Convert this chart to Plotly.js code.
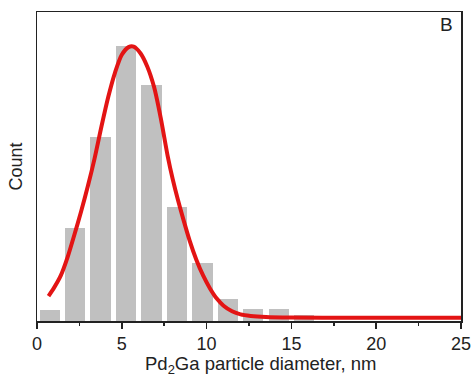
<!DOCTYPE html>
<html>
<head>
<meta charset="utf-8">
<script src="https://cdn.plot.ly/plotly-3.0.1.min.js"></script>
<style>html,body{margin:0;padding:0;background:#fff;}#chart{width:476px;height:376px;}</style>
</head>
<body>
<div id="chart"></div>
<script>
// Histogram bins (bin centers, nm) and counts
var binCenters = [0.75, 2.25, 3.75, 5.25, 6.75, 8.25, 9.75, 11.25, 12.75, 14.25, 15.75];
var counts     = [2.2, 18.2, 36.2, 54, 46.4, 22.4, 11.3, 4.4, 2.4, 2.4, 1.2];

// Fitted distribution curve
var fitX = [0.68, 1.0, 1.4, 1.8, 2.2, 2.6, 3.0, 3.4, 3.8, 4.2, 4.6, 5.0, 5.4, 5.7, 6.1, 6.5, 6.9, 7.3, 7.7, 8.0, 8.3, 8.6, 9.0, 9.4, 9.8, 10.2, 10.6, 11.0, 11.5, 12.0, 12.6, 13.5, 15, 18, 25];
var fitY = [4.9, 6.5, 8.9, 12.5, 16.9, 21.5, 26.5, 32.0, 38.2, 44.0, 48.8, 52.3, 53.8, 53.9, 52.6, 50.0, 46.0, 39.8, 32.5, 27.9, 23.9, 20.3, 15.8, 12.0, 8.9, 6.4, 4.4, 3.0, 1.9, 1.3, 1.0, 0.8, 0.7, 0.65, 0.65];

var xTickVals = [0, 5, 10, 15, 20, 25];
var xTickText = ["0", "5", "10", "15", "20", "25"];

var traces = [
  {
    type: 'bar', x: binCenters, y: counts, width: 1.2,
    marker: {color: '#c0c0c0', line: {width: 0}},
    hoverinfo: 'none', showlegend: false
  },
  {
    type: 'scatter', mode: 'lines', x: fitX, y: fitY,
    line: {color: '#e31414', width: 4, shape: 'spline', smoothing: 0.8},
    hoverinfo: 'none', showlegend: false
  }
];

var layout = {
  width: 476, height: 376,
  margin: {l: 37, r: 15, t: 12, b: 55},
  paper_bgcolor: '#fff', plot_bgcolor: '#fff',
  font: {family: 'Liberation Sans, Arial, sans-serif', color: '#222', size: 18},
  xaxis: {
    range: [0, 25], tickvals: xTickVals, ticktext: xTickText,
    ticks: 'outside', ticklen: 6, tickwidth: 1.5, tickcolor: '#222',
    minor: {dtick: 2.5, ticks: 'outside', ticklen: 3, tickwidth: 1.5, tickcolor: '#222'},
    showline: true, linecolor: '#222', linewidth: 1.5, mirror: true,
    showgrid: false, zeroline: false,
    tickfont: {size: 18, color: '#222'}
  },
  yaxis: {
    range: [0, 60.7], showticklabels: false, ticks: '',
    showline: true, linecolor: '#222', linewidth: 1.5, mirror: true,
    showgrid: false, zeroline: false,
    title: {text: 'Count', font: {size: 18, color: '#222'}, standoff: 8}
  },
  annotations: [
    {
      text: 'B', xref: 'paper', yref: 'paper', x: 0.966, y: 0.96,
      xanchor: 'center', yanchor: 'middle', showarrow: false,
      font: {size: 19, color: '#222'}
    },
    {
      text: 'Pd<sub>2</sub>Ga particle diameter, nm', xref: 'paper', yref: 'paper',
      x: 0.527, y: -0.098, xanchor: 'center', yanchor: 'top', showarrow: false,
      font: {size: 18.5, color: '#222'}
    }
  ],
  bargap: 0
};

Plotly.newPlot('chart', traces, layout, {displayModeBar: false, staticPlot: true});
</script>
</body>
</html>
